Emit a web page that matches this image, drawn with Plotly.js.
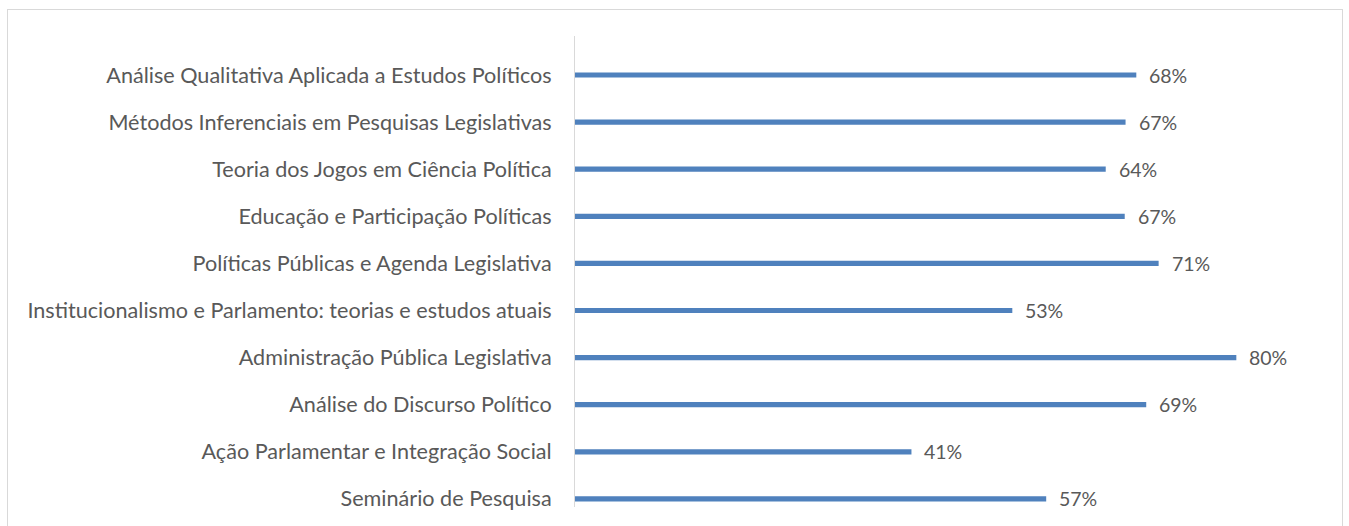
<!DOCTYPE html>
<html>
<head>
<meta charset="utf-8">
<script src="https://cdn.plot.ly/plotly-3.0.1.min.js"></script>
<style>
html,body{margin:0;padding:0;background:#fff;overflow:hidden;}
#chart{width:1349px;height:526px;}
#frame{position:absolute;left:7px;top:9px;width:1334px;height:540px;border:1px solid #d9d9d9;pointer-events:none;}
</style>
</head>
<body>
<div id="chart"></div>
<div id="frame"></div>
<script>
const categories = [
  "Análise Qualitativa Aplicada a Estudos Políticos",
  "Métodos Inferenciais em Pesquisas Legislativas",
  "Teoria dos Jogos em Ciência Política",
  "Educação e Participação Políticas",
  "Políticas Públicas e Agenda Legislativa",
  "Institucionalismo e Parlamento: teorias e estudos atuais",
  "Administração Pública Legislativa",
  "Análise do Discurso Político",
  "Ação Parlamentar e Integração Social",
  "Seminário de Pesquisa"
];
const values = [0.679, 0.666, 0.642, 0.665, 0.706, 0.529, 0.800, 0.691, 0.407, 0.570];

const fontFam = "Lato, 'Liberation Sans', sans-serif";
const textColor = "#595959";

const trace = {
  type: "bar",
  orientation: "h",
  x: values,
  y: categories,
  width: 0.11,
  marker: {color: "#4f81bd"},
  hoverinfo: "none"
};

const annotations = categories.map((c, i) => ({
  x: values[i], y: c, xref: "x", yref: "y",
  text: Math.round(values[i] * 100) + "%",
  showarrow: false, xanchor: "left", yanchor: "middle",
  xshift: 11,
  font: {family: fontFam, size: 19.5, color: textColor}
}));

const layout = {
  width: 1349, height: 526,
  margin: {l: 575, r: 30, t: 36, b: 19, pad: 0},
  paper_bgcolor: "#ffffff",
  plot_bgcolor: "#ffffff",
  showlegend: false,
  xaxis: {range: [0, 0.9], showgrid: false, zeroline: false, showticklabels: false, showline: false, ticks: ""},
  yaxis: {
    type: "category",
    range: [9.172, -0.828],
    showgrid: false, zeroline: false,
    showline: true, linecolor: "#d9d9d9", linewidth: 1,
    ticks: "", ticklabelstandoff: 18,
    tickfont: {family: fontFam, size: 21.6, color: textColor}
  },
  annotations: annotations
};

Plotly.newPlot("chart", [trace], layout, {displayModeBar: false, staticPlot: true});
</script>
</body>
</html>
